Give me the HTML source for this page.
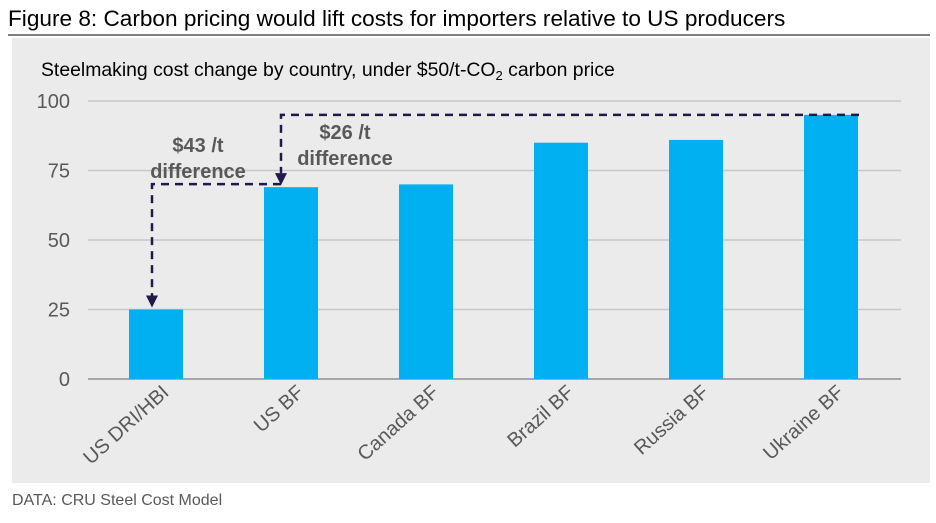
<!DOCTYPE html>
<html><head><meta charset="utf-8"><style>
body{margin:0;background:#fff;font-family:"Liberation Sans",Arial,sans-serif;}
svg text{font-family:"Liberation Sans",Arial,sans-serif;}
</style></head><body>
<svg id="c" width="936" height="518" xmlns="http://www.w3.org/2000/svg">
<text x="8" y="26" font-size="22.6" fill="#000">Figure 8: Carbon pricing would lift costs for importers relative to US producers</text>
<line x1="8" y1="35" x2="930" y2="35" stroke="#555" stroke-width="1.5"/>
<rect x="12" y="38" width="918" height="445" fill="#ebebeb"/>
<text x="41" y="76" font-size="19.4" fill="#000">Steelmaking cost change by country, under $50/t-CO<tspan font-size="13" dy="4">2</tspan><tspan dy="-4"> carbon price</tspan></text>
<g id="grid"></g><g id="bars"></g><g id="labels"></g><g id="ann"></g>
<text x="12" y="505" font-size="16" fill="#595959">DATA: CRU Steel Cost Model</text>
</svg>
<script>
const categories=["US DRI/HBI","US BF","Canada BF","Brazil BF","Russia BF","Ukraine BF"];
const values=[25,69,70,85,86,95];
const ticks=[0,25,50,75,100];
const NS="http://www.w3.org/2000/svg";
function y(v){return 379-v*2.78;}
function x(i){return 156+i*135;}
function mk(t,a,p){const e=document.createElementNS(NS,t);for(const k in a)e.setAttribute(k,a[k]);p.appendChild(e);return e;}
const g=document.getElementById('grid');
ticks.forEach(t=>{
 const l=mk('line',{x1:88,x2:901,y1:y(t),y2:y(t),stroke:t===0?'#a6a6a6':'#c8c8c8','stroke-width':t===0?2:1.5},g);
 
 
 const tx=mk('text',{x:70,y:y(t)+7,'text-anchor':'end','font-size':20,fill:'#595959'},g);
 tx.textContent=t;
 
 
});
const b=document.getElementById('bars'),lb=document.getElementById('labels');
categories.forEach((c,i)=>{
 const r=mk('rect',{x:x(i)-27,y:y(values[i]),width:54,height:y(0)-y(values[i]),fill:'#00b0f0'},b);
 
 
 const t=mk('text',{x:x(i)+14,y:394,'text-anchor':'end','font-size':20,fill:'#595959',transform:`rotate(-42 ${x(i)+14} 394)`},lb);
 t.textContent=c;
 
 
});
const a=document.getElementById('ann');
const dash={stroke:'#1f1a4a','stroke-width':2.5,fill:'none','stroke-dasharray':'8 6'};
const p1=mk('path',Object.assign({d:`M${x(1)-10} ${y(values[1])-3} H${x(0)-4} V${y(values[0])-14}`},dash),a);


const h1=mk('path',{d:`M${x(0)-10} ${y(values[0])-14} L${x(0)+2} ${y(values[0])-14} L${x(0)-4} ${y(values[0])-2}Z`,fill:'#1f1a4a'},a);


const p2=mk('path',Object.assign({d:`M${x(5)+28} ${y(values[5])} H${x(1)-10} V${y(values[1])-14}`},dash),a);


const h2=mk('path',{d:`M${x(1)-16} ${y(values[1])-14} L${x(1)-4} ${y(values[1])-14} L${x(1)-10} ${y(values[1])-2}Z`,fill:'#1f1a4a'},a);


[["$43 /t",198,152],["difference",198,178],["$26 /t",345,139],["difference",345,165]].forEach(([s,xx,yy])=>{
 const t=mk('text',{x:xx,y:yy,'text-anchor':'middle','font-size':20,'font-weight':'bold',fill:'#595959'},a);
 t.textContent=s;
 
 
});
</script>
</body></html>
